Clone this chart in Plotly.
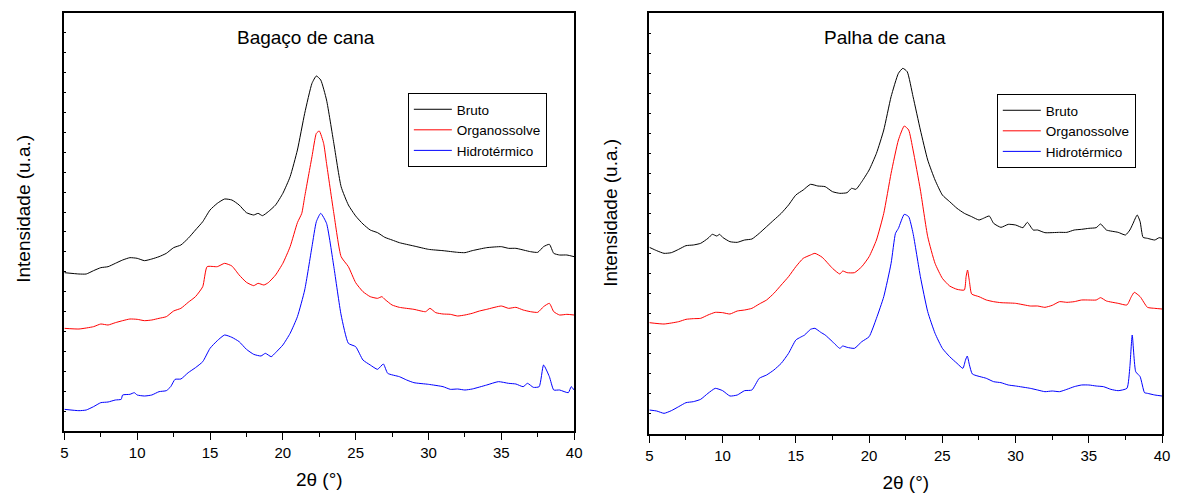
import plotly.graph_objects as go

# ---------------- Data (intensity in arbitrary units) ----------------
# Left panel: Bagaço de cana
bag_bruto_x = [5, 6, 6.5, 7, 7.5, 8, 8.5, 9, 9.5, 10, 10.5, 11, 11.5, 12, 12.5, 13, 13.5, 14, 14.5, 15,
               15.5, 16, 16.5, 17, 17.5, 18, 18.3, 18.6, 19, 19.5, 20, 20.5, 21, 21.5, 22, 22.3, 22.6, 23, 23.5, 24,
               24.5, 25, 25.5, 26, 26.5, 27, 27.5, 28, 29, 30, 31, 32, 32.5, 33, 34, 35, 35.5, 36, 37, 37.5,
               37.9, 38.3, 38.6, 39, 39.5, 40]
bag_bruto_y = [477, 473, 473, 483, 492, 495, 505, 515, 522, 520, 513, 518, 525, 535, 552, 560, 580, 605, 630, 665,
               685, 698, 695, 680, 657, 650, 655, 648, 660, 680, 715, 765, 845, 955, 1045, 1067, 1055, 995, 865, 735,
               680, 647, 623, 605, 597, 583, 575, 567, 557, 547, 543, 538, 537, 543, 552, 555, 550, 550, 540, 538,
               555, 562, 535, 530, 530, 525]

bag_org_x = [5, 6, 7, 7.5, 8, 8.5, 9, 9.5, 10, 10.5, 11, 11.5, 12, 12.5, 13, 13.5, 14, 14.5, 14.8, 15.5,
             16, 16.5, 17, 17.5, 18, 18.3, 18.7, 19, 19.5, 20, 20.5, 21, 21.3, 21.5, 22, 22.3, 22.5, 22.8, 23, 23.5,
             24, 24.5, 25, 25.5, 26, 26.5, 26.8, 27, 27.5, 28, 29, 29.8, 30.1, 30.5, 31, 31.5, 32, 32.5, 33, 33.5,
             34, 35, 35.5, 36, 36.5, 37, 37.5, 37.9, 38.3, 38.6, 39, 39.5, 40]
bag_org_y = [310, 308, 315, 323, 320, 327, 333, 338, 337, 333, 335, 340, 345, 362, 370, 388, 405, 435, 495, 495,
             505, 497, 470, 448, 438, 445, 440, 447, 470, 505, 555, 627, 655, 705, 825, 895, 902, 865, 805, 655,
             525, 495, 447, 420, 405, 400, 405, 397, 380, 373, 367, 360, 370, 357, 353, 352, 347, 350, 355, 362,
             367, 377, 370, 373, 365, 360, 358, 375, 385, 360, 350, 352, 350]

bag_hid_x = [5, 6, 6.5, 7, 7.5, 8, 8.5, 8.9, 9, 9.5, 9.8, 10, 10.5, 11, 11.5, 12, 12.3, 12.6, 13, 13.5,
             14, 14.5, 15, 15.5, 16, 16.5, 17, 17.5, 18, 18.5, 18.8, 19.2, 19.5, 20, 20.5, 21, 21.5, 22, 22.3, 22.6,
             23, 23.5, 24, 24.5, 25, 25.5, 26, 26.5, 26.9, 27.2, 28, 28.5, 29, 30, 31, 31.5, 32, 32.5, 33, 34,
             34.8, 35.5, 36, 36.5, 36.8, 37.2, 37.6, 37.9, 38.3, 38.6, 39, 39.6, 39.8, 40]
bag_hid_y = [67, 63, 65, 75, 87, 89, 95, 97, 110, 112, 117, 110, 107, 110, 120, 123, 135, 157, 158, 177,
             192, 210, 250, 273, 290, 283, 270, 247, 232, 227, 235, 225, 237, 260, 295, 345, 425, 555, 630, 655,
             625, 495, 350, 265, 255, 215, 200, 187, 203, 175, 165, 155, 147, 142, 135, 127, 128, 125, 128, 140,
             150, 145, 143, 135, 145, 133, 135, 200, 165, 125, 125, 117, 135, 125]

# Right panel: Palha de cana
pal_bruto_x = [5, 5.5, 6, 6.5, 7, 7.5, 8, 8.5, 9, 9.3, 9.6, 9.8, 10, 10.5, 11, 11.5, 12, 12.5, 13, 13.5,
               14, 14.5, 15, 15.5, 16, 16.5, 17, 17.5, 18, 18.5, 18.8, 19.1, 19.5, 20, 20.5, 21, 21.5, 22, 22.3, 22.6,
               23, 23.5, 24, 24.5, 25, 25.5, 26, 26.5, 27, 27.5, 27.8, 28.2, 28.5, 29, 29.5, 30, 30.5, 30.8, 31.2, 31.5,
               32, 33, 33.5, 34, 34.5, 35, 35.5, 35.8, 36.2, 37, 37.5, 37.8, 38, 38.3, 38.5, 38.7, 39, 39.5, 39.8, 40]
pal_bruto_y = [558, 548, 540, 542, 552, 563, 565, 570, 585, 597, 592, 597, 588, 575, 573, 580, 583, 600, 620, 640,
               660, 685, 715, 730, 747, 742, 740, 725, 720, 722, 735, 732, 755, 790, 840, 910, 1010, 1080, 1095, 1085,
               1010, 910, 820, 760, 715, 695, 675, 660, 650, 640, 645, 652, 630, 618, 627, 625, 617, 633, 610, 610,
               602, 603, 603, 610, 612, 615, 617, 628, 610, 603, 595, 610, 628, 655, 635, 588, 585, 580, 587, 585]

pal_org_x = [5, 6, 7, 7.5, 8, 8.5, 9, 9.5, 10, 10.5, 11, 11.5, 12, 12.5, 13, 13.5, 14, 14.5, 15, 15.5,
             16, 16.3, 16.8, 17.5, 18, 18.2, 18.5, 19, 19.5, 20, 20.5, 21, 21.5, 22, 22.4, 22.7, 23, 23.5, 24, 24.5,
             25, 25.5, 26, 26.5, 26.62, 26.72, 26.85, 27.0, 27.5, 28, 28.5, 29, 30, 31, 31.5, 32, 32.5, 33, 33.5, 34,
             34.5, 35, 35.5, 35.8, 36.2, 37, 37.6, 37.9, 38.1, 38.5, 39, 39.5, 40]
pal_org_y = [332, 328, 335, 342, 344, 345, 355, 363, 362, 358, 367, 370, 375, 388, 400, 420, 445, 470, 500, 525,
             535, 540, 528, 495, 478, 487, 482, 482, 500, 530, 580, 660, 780, 880, 922, 910, 850, 730, 590, 510,
             465, 442, 432, 430, 470, 490, 455, 418, 410, 400, 395, 392, 390, 382, 382, 378, 384, 395, 393, 395,
             400, 400, 400, 407, 397, 390, 385, 410, 423, 410, 378, 375, 373]

pal_hid_x = [5, 5.5, 6, 6.5, 7, 7.5, 8, 8.5, 9, 9.5, 10, 10.5, 11, 11.5, 12, 12.5, 13, 13.5, 14, 14.5,
             15, 15.3, 15.6, 16, 16.3, 16.7, 17, 17.5, 18, 18.2, 18.5, 19, 19.5, 20, 20.5, 21, 21.5, 21.8, 22, 22.4,
             22.7, 23, 23.5, 24, 24.5, 25, 25.5, 26, 26.4, 26.58, 26.7, 26.85, 27.05, 28, 28.5, 29, 29.5, 30, 31, 31.5,
             32, 32.5, 33, 33.5, 34, 34.5, 35, 35.5, 36, 36.5, 37, 37.6, 37.8, 37.96, 38.2, 38.5, 38.8, 39, 39.5, 40]
pal_hid_y = [70, 67, 60, 68, 80, 92, 95, 102, 120, 135, 128, 112, 115, 128, 130, 165, 175, 190, 210, 240,
             280, 288, 295, 312, 315, 303, 295, 275, 255, 262, 258, 255, 275, 290, 345, 410, 510, 600, 615, 657,
             650, 600, 470, 365, 300, 255, 230, 210, 195, 220, 232, 205, 178, 165, 155, 152, 145, 142, 135, 130,
             125, 127, 125, 132, 140, 145, 145, 142, 140, 132, 128, 135, 200, 295, 185, 170, 122, 120, 115, 112]

series_names = ["Bruto", "Organossolve", "Hidrotérmico"]
series_colors = ["#000000", "#ff0000", "#0000ff"]
panel_titles = ["Bagaço de cana", "Palha de cana"]
x_title = "2θ (°)"
y_title = "Intensidade (u.a.)"
x_ticks = [5, 10, 15, 20, 25, 30, 35, 40]

left_series = [(bag_bruto_x, bag_bruto_y), (bag_org_x, bag_org_y), (bag_hid_x, bag_hid_y)]
right_series = [(pal_bruto_x, pal_bruto_y), (pal_org_x, pal_org_y), (pal_hid_x, pal_hid_y)]

FONT = "Arial, 'Liberation Sans', sans-serif"

fig = go.Figure()
for (xs, ys), name, col in zip(left_series, series_names, series_colors):
    fig.add_trace(go.Scatter(x=xs, y=ys, mode="lines", name=name,
                             line=dict(color=col, width=1, shape="spline", smoothing=0.5),
                             xaxis="x", yaxis="y", legend="legend"))
for (xs, ys), name, col in zip(right_series, series_names, series_colors):
    fig.add_trace(go.Scatter(x=xs, y=ys, mode="lines", name=name,
                             line=dict(color=col, width=1, shape="spline", smoothing=0.5),
                             xaxis="x2", yaxis="y2", legend="legend2"))

W, H = 1180, 493
L_dom_x = [61 / W, 576 / W]
L_dom_y = [(H - 431) / H, (H - 13) / H]
R_dom_x = [652 / W, 1170 / W]
R_dom_y = [(H - 434) / H, (H - 13) / H]
L_yr = [2, 1256]
R_yr = [-2, 1261]


def bottom_x(domain, anchor):
    return dict(domain=domain, anchor=anchor, range=[5, 40], tickmode="array", tickvals=x_ticks,
                ticks="outside", ticklen=7, tickwidth=1, tickcolor="black",
                minor=dict(ticks="outside", ticklen=4, tickwidth=1, tickcolor="black", dtick=2.5, tick0=5),
                showline=True, linecolor="black", linewidth=1.5, mirror=True,
                showgrid=False, zeroline=False,
                tickfont=dict(size=15, color="black", family=FONT),
                title=dict(text=x_title, font=dict(size=19, color="black", family=FONT), standoff=13))


def left_y(domain, anchor, rng):
    return dict(domain=domain, anchor=anchor, range=rng, tick0=rng[0], dtick=(rng[1] - rng[0]) / 21,
                ticks="inside", ticklen=2, tickwidth=1, tickcolor="black", showticklabels=False,
                showline=True, linecolor="black", linewidth=1.5, mirror=True,
                showgrid=False, zeroline=False)


def top_x(overlay, anchor):
    return dict(overlaying=overlay, anchor=anchor, side="top", range=[5, 40], tick0=5, dtick=3.5,
                ticks="inside", ticklen=2, tickwidth=1, tickcolor="black", showticklabels=False,
                showline=False, showgrid=False, zeroline=False)


def right_y(overlay, anchor, rng):
    return dict(overlaying=overlay, anchor=anchor, side="right", range=rng, tick0=rng[0],
                dtick=(rng[1] - rng[0]) / 10,
                ticks="inside", ticklen=3, tickwidth=1, tickcolor="black", showticklabels=False,
                showline=False, showgrid=False, zeroline=False)


legend_common = dict(bgcolor="white", bordercolor="black", borderwidth=1,
                     font=dict(size=13.5, color="black", family=FONT),
                     xanchor="left", yanchor="top", tracegroupgap=0, itemwidth=38,
                     xref="paper", yref="paper")

fig.update_layout(
    width=W, height=H,
    margin=dict(l=0, r=0, t=0, b=0),
    paper_bgcolor="white", plot_bgcolor="white",
    font=dict(family=FONT, color="black"),
    xaxis=bottom_x(L_dom_x, "y"),
    yaxis=left_y(L_dom_y, "x", L_yr),
    xaxis2=bottom_x(R_dom_x, "y2"),
    yaxis2=left_y(R_dom_y, "x2", R_yr),
    xaxis3=top_x("x", "y"),
    yaxis3=right_y("y", "x", L_yr),
    xaxis4=top_x("x2", "y2"),
    yaxis4=right_y("y2", "x2", R_yr),
    legend=dict(x=408 / W, y=(H - 93) / H, **legend_common),
    legend2=dict(x=1003 / W, y=(H - 94) / H, **legend_common),
    showlegend=True,
)

# panel titles
fig.add_annotation(text=panel_titles[0], x=305 / W, y=(H - 37) / H, xref="paper", yref="paper",
                   xanchor="center", yanchor="middle",
                   showarrow=False, font=dict(size=19, color="black", family=FONT))
fig.add_annotation(text=panel_titles[1], x=890 / W, y=(H - 38) / H, xref="paper", yref="paper",
                   xanchor="center", yanchor="middle",
                   showarrow=False, font=dict(size=19, color="black", family=FONT))
# y-axis titles
fig.add_annotation(text=y_title, x=20 / W, y=(H - 209) / H, xref="paper", yref="paper",
                   xanchor="center", yanchor="middle", textangle=-90,
                   showarrow=False, font=dict(size=19, color="black", family=FONT))
fig.add_annotation(text=y_title, x=612 / W, y=(H - 213) / H, xref="paper", yref="paper",
                   xanchor="center", yanchor="middle", textangle=-90,
                   showarrow=False, font=dict(size=19, color="black", family=FONT))

fig.write_html("out.html")
